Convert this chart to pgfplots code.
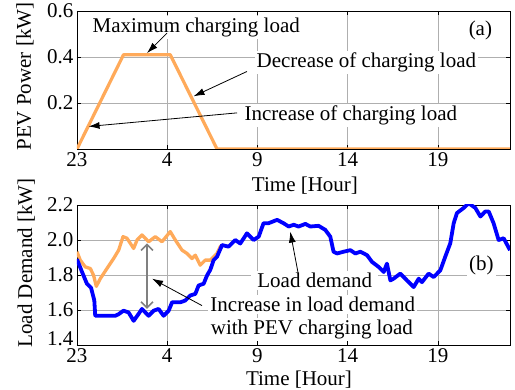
\documentclass[border=0pt]{standalone}
\usepackage{fontspec}
\setmainfont{Liberation Serif}
\usepackage{pgfplots}
\pgfplotsset{compat=1.18}
\usetikzlibrary{arrows.meta}
\definecolor{pevorange}{RGB}{255,170,90}
\definecolor{gridgray}{RGB}{175,175,175}
\newcommand{\fs}{\fontsize{21}{25}\selectfont}
\tikzset{
  ann/.style={fill=white, inner sep=2pt, font=\fs},
  arr/.style={-{Latex[length=11pt,width=7pt]}, line width=0.8pt, black},
}
\pgfplotsset{
  myax/.style={
    scale only axis, width=433pt, xmin=0, xmax=24,
    xtick={0,5,10,15,20}, xticklabels={23,4,9,14,19},
    grid=major, major grid style={gridgray, line width=0.6pt},
    tick align=inside, major tick length=4pt,
    axis line style={line width=0.6pt},
    tick style={black, line width=0.6pt},
    /pgf/number format/assume math mode=true,
    ticklabel style={font=\fs},
    label style={font=\fs},
    xlabel={Time [Hour]},
  },
}
\begin{document}
\begin{tikzpicture}[font=\fs]
\useasboundingbox (-77pt,11pt) rectangle (438pt,-379pt);
% ---------- (a) ----------
\begin{axis}[myax, at={(0,0)}, anchor=north west, height=138pt,
  ymin=0, ymax=0.6, ytick={0.2,0.4,0.6}, yticklabels={0.2,0.4,0.6},
  ylabel={PEV Power [kW]},
  xlabel style={at={(axis description cs:0.5265,-0.268)}, anchor=center},
  ylabel style={at={(axis description cs:-0.12,0.525)}, anchor=center}]
\addplot[pevorange, line width=3.2pt, line join=round] coordinates {
(0,0) (2.58,0.41) (5.17,0.41) (7.76,0) (24,0)};
\node[ann] at (axis cs:6.61,0.527) {Maximum charging load};
\node[ann] at (axis cs:16.04,0.375) {Decrease of charging load};
\node[ann] at (axis cs:15.18,0.145) {Increase of charging load};
\node[ann] at (axis cs:22.36,0.514) {(a)};
\draw[arr] (axis cs:4.99,0.504) -- (axis cs:3.88,0.417);
\draw[arr] (axis cs:9.42,0.337) -- (axis cs:6.46,0.229);
\draw[arr] (axis cs:8.87,0.157) -- (axis cs:0.64,0.098);
\end{axis}
% ---------- (b) ----------
\begin{axis}[myax, at={(0,-194pt)}, anchor=north west, height=140pt,
  ymin=1.4, ymax=2.2, ytick={1.4,1.6,1.8,2.0,2.2},
  yticklabels={\raisebox{13pt}{1.4},1.6,1.8,2.0,2.2},
  ylabel={Load Demand [kW]},
  xlabel style={at={(axis description cs:0.5127,-0.25)}, anchor=center},
  ylabel style={at={(axis description cs:-0.1175,0.586)}, anchor=center}]
\node[ann, inner xsep=6pt] at (axis cs:13.18,1.769) {Load demand};
\node[ann] at (axis cs:13.07,1.631) {Increase in load demand};
\node[ann] at (axis cs:13.02,1.486) {with PEV charging load};
\node[ann] at (axis cs:22.42,1.856) {(b)};
\addplot[pevorange, line width=3.3pt, line join=round] coordinates {
(0,1.933) (0.18,1.885) (0.46,1.846) (0.74,1.837) (0.92,1.798) (1.07,1.735)
(1.29,1.779) (1.66,1.837) (2.03,1.894) (2.31,1.942) (2.55,2.019) (2.77,2.01)
(3.14,1.952) (3.33,2.0) (3.60,2.029) (3.97,1.99) (4.34,2.019) (4.71,1.99)
(5.17,2.048) (5.45,2.0) (5.82,1.942) (6.10,1.923) (6.37,1.894) (6.56,1.913)
(6.83,1.856) (7.11,1.885) (7.39,1.885) (7.76,1.923) (7.94,1.962) (8.04,1.971)};
\addplot[blue, line width=3.8pt, line join=round] coordinates {
(0,1.89) (0.28,1.817) (0.55,1.75) (0.78,1.727) (0.96,1.654) (1.01,1.567)
(1.29,1.567) (2.12,1.567) (2.29,1.575) (2.58,1.596) (2.86,1.586) (3.14,1.538)
(3.41,1.577) (3.60,1.606) (3.97,1.567) (4.25,1.596) (4.52,1.606) (4.80,1.567)
(5.08,1.596) (5.27,1.644) (5.73,1.644) (6.00,1.654) (6.28,1.683) (6.56,1.692)
(6.74,1.74) (7.02,1.75) (7.21,1.798) (7.39,1.83) (7.57,1.885) (7.76,1.904)
(8.04,1.971) (8.40,1.962) (8.77,2.0) (9.05,1.98) (9.42,2.038) (9.79,2.0)
(10.07,2.019) (10.34,2.096) (10.62,2.096) (11.09,2.115) (11.45,2.096)
(11.73,2.077) (12.01,2.087) (12.28,2.077) (12.66,2.092) (12.93,2.077)
(13.39,2.081) (13.76,2.058) (14.04,2.019) (14.22,1.933) (14.41,1.923)
(14.78,1.933) (15.15,1.942) (15.43,1.923) (15.71,1.933) (16.08,1.913)
(16.35,1.875) (16.72,1.846) (17.00,1.817) (17.18,1.865) (17.37,1.769)
(17.55,1.779) (17.92,1.808) (18.29,1.769) (18.66,1.731) (18.94,1.779)
(19.12,1.759) (19.49,1.808) (19.77,1.788) (20.14,1.827) (20.41,1.904)
(20.69,1.981) (20.88,2.096) (21.06,2.154) (21.43,2.183) (21.71,2.21)
(22.08,2.183) (22.36,2.134) (22.63,2.163) (22.82,2.163) (23.09,2.096)
(23.37,2.0) (23.65,2.01) (24,1.942)};
\draw[gray, line width=1.6pt, {Straight Barb[length=6pt,width=12pt]}-{Straight Barb[length=6pt,width=12pt]}]
  (axis cs:3.88,1.981) -- (axis cs:3.88,1.606);
\draw[arr] (axis cs:12.28,1.798) -- (axis cs:11.82,2.048);
\draw[arr] (axis cs:6.93,1.625) -- (axis cs:4.16,1.779);
\end{axis}
\end{tikzpicture}
\end{document}
